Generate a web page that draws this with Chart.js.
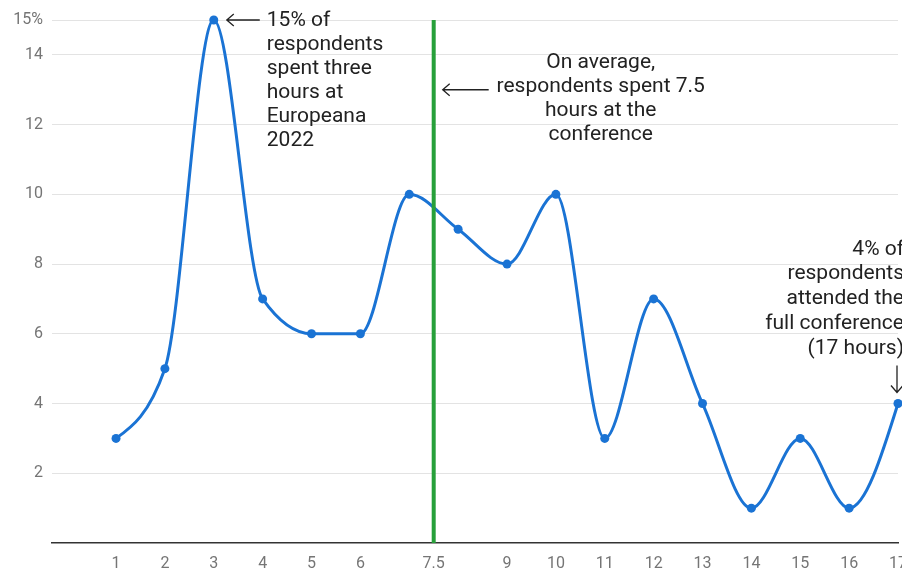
<!DOCTYPE html>
<html>
<head>
<meta charset="utf-8">
<script src="https://cdn.jsdelivr.net/npm/chart.js@4/dist/chart.umd.min.js"></script>
<style>
  html, body { margin: 0; padding: 0; background: #fff; overflow: hidden; }
  canvas { display: block; }
</style>
</head>
<body>
<canvas id="chart" width="918" height="571"></canvas>
<script>
// Hours spent at the conference vs. share of respondents (%)
const hours = [1, 2, 3, 4, 5, 6, 7, 8, 9, 10, 11, 12, 13, 14, 15, 16, 17];
const respondentsPct = [3, 5, 15, 7, 6, 6, 10, 9, 8, 10, 3, 7, 4, 1, 3, 1, 4];
const averageHours = 7.5;
const xTickValues = [1, 2, 3, 4, 5, 6, 7.5, 9, 10, 11, 12, 13, 14, 15, 16, 17];
const yTickValues = [2, 4, 6, 8, 10, 12, 14, 15];

const notes = [
  { x: 3, y: 15, lines: ['15% of', 'respondents', 'spent three', 'hours at', 'Europeana', '2022'] },
  { x: averageHours, y: 13, lines: ['On average,', 'respondents spent 7.5', 'hours at the', 'conference'] },
  { x: 17, y: 4, lines: ['4% of', 'respondents', 'attended the', 'full conference', '(17 hours)'] }
];

const BLUE = '#1a73d4';
const GREEN = '#27a03a';
const INK = '#222222';
const FONT = '21px Roboto';
const LINE_H = 24;

function arrowLeft(ctx, x1, x2, y) {
  ctx.beginPath();
  ctx.moveTo(x2, y); ctx.lineTo(x1, y);
  ctx.moveTo(x1 + 7, y - 6); ctx.lineTo(x1, y); ctx.lineTo(x1 + 7, y + 6);
  ctx.stroke();
}
function arrowDown(ctx, x, y1, y2) {
  ctx.beginPath();
  ctx.moveTo(x, y1); ctx.lineTo(x, y2);
  ctx.moveTo(x - 6, y2 - 7); ctx.lineTo(x, y2); ctx.lineTo(x + 6, y2 - 7);
  ctx.stroke();
}

// Monotone-X smoothing (tangents as in d3.curveMonotoneX)
// written into the bezier control points of the line's point elements.
const monotoneXPlugin = {
  id: 'monotoneX',
  beforeDatasetDraw(chart, args) {
    const ds = chart.data.datasets[args.index];
    const meta = args.meta;
    if (!ds.monotoneX || !meta.dataset) return;
    meta.dataset.updateControlPoints(chart.chartArea, 'x');
    const pts = meta.data;
    const n = pts.length;
    if (n < 3) return;
    const sign = v => (v < 0 ? -1 : v > 0 ? 1 : 0);
    const t = new Array(n).fill(0);
    for (let i = 1; i < n - 1; i++) {
      const h0 = pts[i].x - pts[i - 1].x, h1 = pts[i + 1].x - pts[i].x;
      const s0 = (pts[i].y - pts[i - 1].y) / h0, s1 = (pts[i + 1].y - pts[i].y) / h1;
      const p = (s0 * h1 + s1 * h0) / (h0 + h1);
      t[i] = (sign(s0) + sign(s1)) * Math.min(Math.abs(s0), Math.abs(s1), 0.5 * Math.abs(p)) || 0;
    }
    const h0 = pts[1].x - pts[0].x;
    t[0] = (3 * (pts[1].y - pts[0].y) / h0 - t[1]) / 2;
    const hn = pts[n - 1].x - pts[n - 2].x;
    t[n - 1] = (3 * (pts[n - 1].y - pts[n - 2].y) / hn - t[n - 2]) / 2;
    for (let i = 0; i < n; i++) {
      const pt = pts[i];
      if (i > 0) {
        const dx = (pt.x - pts[i - 1].x) / 3;
        pt.cp1x = pt.x - dx; pt.cp1y = pt.y - dx * t[i];
      }
      if (i < n - 1) {
        const dx = (pts[i + 1].x - pt.x) / 3;
        pt.cp2x = pt.x + dx; pt.cp2y = pt.y + dx * t[i];
      }
    }
    meta.dataset._path = undefined;
  }
};

const notesPlugin = {
  id: 'notes',
  afterDatasetsDraw(chart) {
    const { ctx, scales: { x, y } } = chart;
    ctx.save();
    ctx.fillStyle = INK;
    ctx.strokeStyle = INK;
    ctx.lineWidth = 1.3;
    ctx.font = FONT;
    ctx.textBaseline = 'middle';

    // peak at three hours
    let n = notes[0];
    let px = x.getPixelForValue(n.x), py = y.getPixelForValue(n.y);
    arrowLeft(ctx, px + 13, px + 46, py);
    ctx.textAlign = 'left';
    n.lines.forEach((s, i) => ctx.fillText(s, px + 53, py + 1 + i * LINE_H));

    // average line
    n = notes[1];
    px = x.getPixelForValue(n.x); py = y.getPixelForValue(n.y);
    arrowLeft(ctx, px + 9, px + 55, py);
    ctx.textAlign = 'center';
    n.lines.forEach((s, i) => ctx.fillText(s, px + 167, py - 27 + i * LINE_H));

    // full conference
    n = notes[2];
    px = x.getPixelForValue(n.x); py = y.getPixelForValue(n.y);
    arrowDown(ctx, px - 1, py - 38, py - 11);
    ctx.textAlign = 'right';
    n.lines.forEach((s, i) => ctx.fillText(s, px + 6, py - 154 + i * 24.7));

    ctx.restore();
  }
};

new Chart(document.getElementById('chart'), {
  type: 'line',
  data: {
    datasets: [
      {
        label: 'Average',
        data: [{ x: averageHours, y: 0 }, { x: averageHours, y: 15 }],
        borderColor: GREEN,
        borderWidth: 4,
        pointRadius: 0,
        tension: 0
      },
      {
        label: 'Respondents',
        data: hours.map((h, i) => ({ x: h, y: respondentsPct[i] })),
        borderColor: BLUE,
        backgroundColor: BLUE,
        borderWidth: 3,
        pointRadius: 4.5,
        pointBackgroundColor: BLUE,
        pointBorderWidth: 0,
        tension: 0.3,
        monotoneX: true,
        clip: false
      }
    ]
  },
  options: {
    responsive: false,
    animation: false,
    events: [],
    layout: { padding: { top: 20, right: 20, left: 0, bottom: 0 } },
    elements: { line: { capBezierPoints: false } },
    plugins: { legend: { display: false }, tooltip: { enabled: false } },
    scales: {
      x: {
        type: 'linear',
        min: -0.31,
        max: 17,
        afterBuildTicks(scale) { scale.ticks = xTickValues.map(v => ({ value: v })); },
        afterFit(scale) { scale.height = 28; },
        ticks: {
          color: '#757575',
          font: { family: 'Roboto', size: 16 },
          padding: 11,
          maxRotation: 0,
          autoSkip: false,
          callback: v => String(v)
        },
        grid: { display: false, drawTicks: false },
        border: { display: true, color: '#333333', width: 1.5 }
      },
      y: {
        type: 'linear',
        min: 0,
        max: 15,
        afterBuildTicks(scale) { scale.ticks = yTickValues.map(v => ({ value: v })); },
        afterFit(scale) { scale.width = 52; },
        ticks: {
          color: '#757575',
          font: { family: 'Roboto', size: 16 },
          padding: 9,
          callback: v => (v === 15 ? '15%' : String(v))
        },
        grid: { color: '#e3e3e3', lineWidth: 1, drawTicks: false },
        border: { display: false }
      }
    }
  },
  plugins: [monotoneXPlugin, notesPlugin]
});
</script>
</body>
</html>
